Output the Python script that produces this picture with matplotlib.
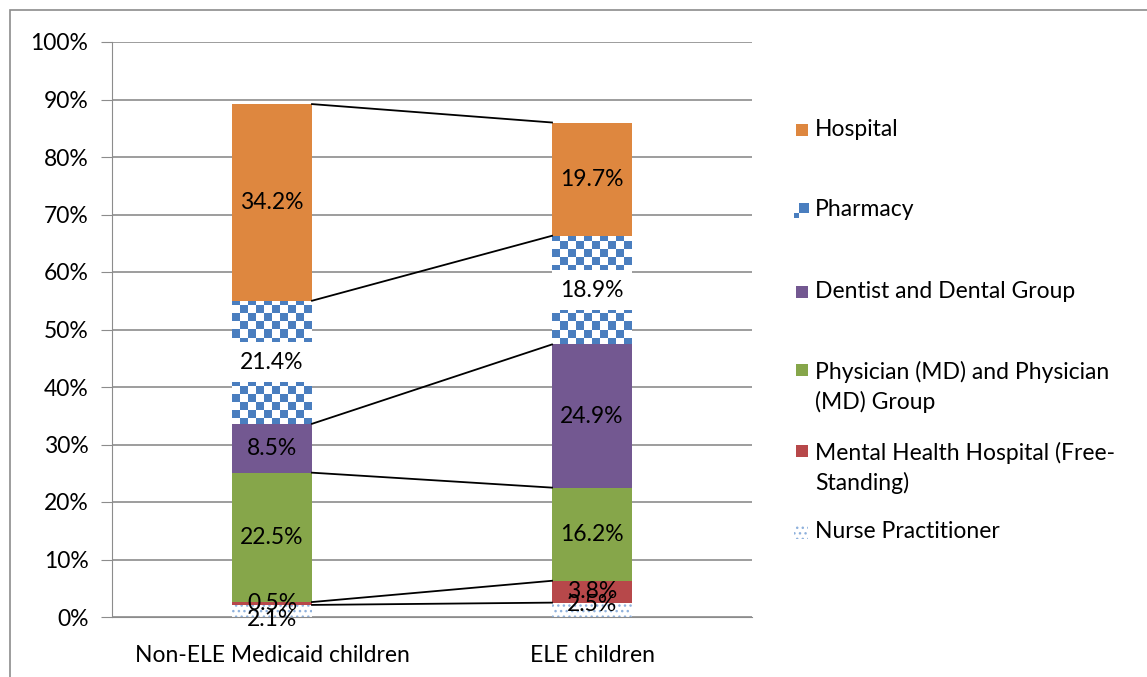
import numpy as np
import matplotlib
matplotlib.use("Agg")
import matplotlib.pyplot as plt
from matplotlib.patches import Rectangle

categories = ["Non-ELE Medicaid children", "ELE children"]
series = ["Nurse Practitioner", "Mental Health Hospital (Free-Standing)",
          "Physician (MD) and Physician (MD) Group", "Dentist and Dental Group",
          "Pharmacy", "Hospital"]
nurse = [2.1, 2.5]
mental = [0.5, 3.8]
physician = [22.5, 16.2]
dentist = [8.5, 24.9]
pharmacy = [21.4, 18.9]
hospital = [34.2, 19.7]
yticks = [0, 10, 20, 30, 40, 50, 60, 70, 80, 90, 100]

values = [nurse, mental, physician, dentist, pharmacy, hospital]
colors = ["white", "#B7484A", "#86A64A", "#735891", "white", "#DE873F"]
blue = "#4A7EBF"
dot_blue = "#8FB1DC"
# nudges for the labels of thin segments (in %)
nudge = [[-1.5, 1.0], [0, 0], [0, 0], [0, 0], [0, 0], [0, 0]]

W, H = 1147, 677
plt.rcParams['font.family'] = ['Lato', 'DejaVu Sans']
plt.rcParams['hatch.linewidth'] = 1.0
fs = 16.5

fig = plt.figure(figsize=(W / 100, H / 100), dpi=100)
ax = fig.add_axes([112 / W, (H - 617) / H, 640 / W, 575 / H])
ax.set_xlim(-0.5, 1.5)
ax.set_ylim(0, 100)

x = np.arange(len(categories))
bw = 0.25
bottom = np.zeros(len(categories))
tops = []
pharm_bars = []
for i, (vals, col) in enumerate(zip(values, colors)):
    kw = {}
    if i == 0:
        kw = dict(hatch="...", edgecolor=dot_blue, linewidth=0)
    bars = ax.bar(x, vals, bw, bottom=bottom, color=col, zorder=2, **kw)
    if i == 4:
        pharm_bars = bars
    for j, v in enumerate(vals):
        yc = bottom[j] + v / 2 + nudge[i][j]
        if i == 4:
            ax.add_patch(Rectangle((x[j] - bw / 2, yc - 3.5), bw, 7,
                                   facecolor="white", edgecolor="none", zorder=4))
        ax.text(x[j], yc, f"{v}%", ha="center", va="center", fontsize=fs, zorder=5)
    bottom = bottom + np.array(vals)
    tops.append(bottom.copy())

# checkerboard fill for pharmacy
px = np.arange(640)
py = np.arange(575)
chk = ((px[None, :] // 8) + (py[:, None] // 8)) % 2
rgb = np.ones((575, 640, 3))
rgb[chk == 1] = matplotlib.colors.to_rgb(blue)
for b in pharm_bars:
    im = ax.imshow(rgb, extent=(-0.5, 1.5, 0, 100), aspect="auto",
                   interpolation="nearest", zorder=3, origin="upper")
    im.set_clip_path(b)
ax.set_xlim(-0.5, 1.5)
ax.set_ylim(0, 100)

# series lines
for t in tops:
    ax.plot([x[0] + bw / 2, x[1] - bw / 2], [t[0], t[1]], color="black", lw=1.3, zorder=3)

ax.set_yticks(yticks)
ax.set_yticklabels([f"{v}%" for v in yticks], fontsize=fs)
ax.set_xticks(x)
ax.set_xticklabels(categories, fontsize=fs)
ax.yaxis.grid(True, color="#8C8C8C", lw=1.2, zorder=0)
ax.set_axisbelow(True)
for s in ["top", "right"]:
    ax.spines[s].set_visible(False)
ax.spines["left"].set_color("#8C8C8C")
ax.spines["bottom"].set_color("#8C8C8C")
ax.tick_params(axis="y", length=8, color="#8C8C8C", pad=9)
ax.tick_params(axis="x", length=0, pad=20)


def fr(xp, yp, w, h):
    return (xp / W, 1 - (yp + h) / H), w / W, h / H


# legend (drawn by hand to match the original)
leg_labels = ["Hospital", "Pharmacy", "Dentist and Dental Group",
              "Physician (MD) and Physician\n(MD) Group",
              "Mental Health Hospital (Free-\nStanding)", "Nurse Practitioner"]
leg_y = [130, 210, 292, 387, 468, 532]
leg_cols = ["#DE873F", None, "#735891", "#86A64A", "#B7484A", None]
for lab, yy, c in zip(leg_labels, leg_y, leg_cols):
    top_line = yy - (17 if "\n" in lab else 0)
    if c is not None:
        xy, w, h = fr(796, top_line - 6, 12, 12)
        fig.add_artist(Rectangle(xy, w, h, facecolor=c, edgecolor="none",
                                 transform=fig.transFigure))
    elif lab == "Pharmacy":
        xy, w, h = fr(799, top_line - 7, 10, 10)
        fig.add_artist(Rectangle(xy, w, h, facecolor=blue, edgecolor="none",
                                 transform=fig.transFigure))
        xy, w, h = fr(794, top_line + 3, 5, 5)
        fig.add_artist(Rectangle(xy, w, h, facecolor=blue, edgecolor="none",
                                 transform=fig.transFigure))
    else:
        xy, w, h = fr(794, top_line - 7, 14, 14)
        fig.add_artist(Rectangle(xy, w, h, facecolor="white", edgecolor=dot_blue,
                                 hatch="...", linewidth=0, transform=fig.transFigure))
    fig.text(815 / W, 1 - yy / H, lab, fontsize=fs, va="center", ha="left",
             linespacing=1.45)

# outer chart frame
xy, w, h = fr(10, 10, 1200, 700)
fig.add_artist(Rectangle(xy, w, h, facecolor="none", edgecolor="#8C8C8C", lw=1.2,
                         transform=fig.transFigure))

fig.savefig("out.png", dpi=100)
